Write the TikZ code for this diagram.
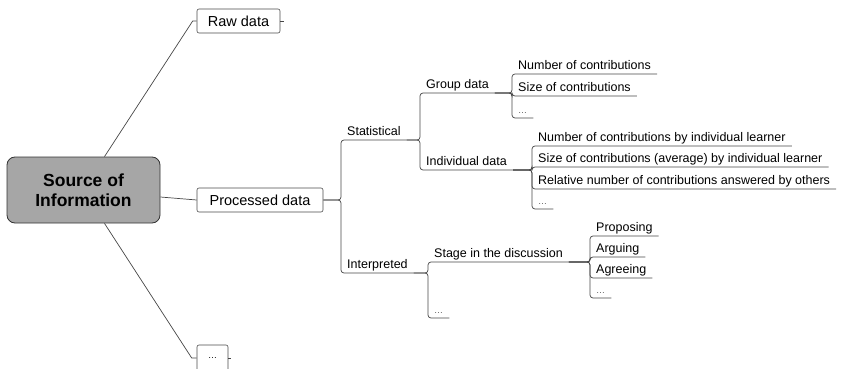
\documentclass[tikz,border=0pt]{standalone}
\usepackage{fontspec}
\setmainfont{Liberation Sans}
\usetikzlibrary{positioning}

\begin{document}
\begin{tikzpicture}[x=1pt,y=-1pt]

    % Define styles
    \tikzstyle{root} = [rectangle, rounded corners=8pt, draw=gray!40!black, fill=gray!70, line width=0.8pt, minimum width=153pt, minimum height=66pt, align=center, font=\fontsize{17.5}{20}\selectfont\bfseries]
    \tikzstyle{branchbox} = [rectangle, rounded corners=2pt, draw=gray!60!black, fill=white, line width=0.6pt, minimum height=24pt, inner xsep=10pt, font=\fontsize{14.5}{16}\selectfont]
    \tikzstyle{topic} = [anchor=south west, inner xsep=6pt, inner ysep=4pt, text depth=0pt, font=\fontsize{12.5}{14}\selectfont]
    \tikzstyle{dots} = [topic, text=gray!70!black, font=\fontsize{9}{10}\selectfont]
    \tikzstyle{link} = [draw=gray!55!black, line width=0.7pt]
    \tikzstyle{branch} = [link, rounded corners=3pt]

    \useasboundingbox (0,0) rectangle (845,369);

    % Central topic and main branches
    \node[root] (source) at (83.5,190) {Source of\\Information};
    \node[branchbox, minimum width=83pt] (raw) at (238.5,21) {Raw data};
    \node[branchbox, minimum width=126pt] (proc) at (260,200) {Processed data};
    \node[branchbox, minimum width=31pt, minimum height=26pt, font=\fontsize{9}{10}\selectfont] (more) at (212.5,358) {\ldots};

    % Processed data subtopics
    \node[topic] (stat) at (341,140) {Statistical};
    \node[topic] (interp) at (341,273) {Interpreted};

    \node[topic] (group) at (420,93) {Group data};
    \node[topic] (indiv) at (420,170) {Individual data};

    \node[topic] (grpnum) at (512,74) {Number of contributions};
    \node[topic] (grpsize) at (512,96) {Size of contributions};
    \node[dots] (grpdots) at (512,118) {\ldots};

    \node[topic] (indnum) at (532,146) {Number of contributions by individual learner};
    \node[topic] (indsize) at (532,167) {Size of contributions (average) by individual learner};
    \node[topic] (indrel) at (532,189) {Relative number of contributions answered by others};
    \node[dots] (inddots) at (532,209) {\ldots};

    \node[topic] (stage) at (428,262) {Stage in the discussion};
    \node[dots] (intdots) at (428,318) {\ldots};

    \node[topic] (propose) at (590,236) {Proposing};
    \node[topic] (argue) at (590,257) {Arguing};
    \node[topic] (agree) at (590,278) {Agreeing};
    \node[dots] (stagedots) at (590,298) {\ldots};

    % Lines from the central topic
    \draw[link] ([xshift=21pt]source.north) -- ([xshift=-4pt]raw.west) -- (raw.west);
    \draw[link] ([yshift=-7pt]source.east) -- (proc.west);
    \draw[link] ([xshift=21pt]source.south) -- ([xshift=-5pt]more.west) -- (more.west);
    \draw[link] (raw.east) -- ++(4,0);
    \draw[link] (more.east) -- ++(3,0);

    % Tree branches
    \foreach \child in {stat, interp}
        \draw[branch] (proc.east) -| (\child.south west) -- (\child.south east);
    \foreach \child in {group, indiv}
        \draw[branch] (stat.south east) -| (\child.south west) -- (\child.south east);
    \foreach \child in {grpnum, grpsize, grpdots}
        \draw[branch] (group.south east) -| (\child.south west) -- (\child.south east);
    \foreach \child in {indnum, indsize, indrel, inddots}
        \draw[branch] (indiv.south east) -| (\child.south west) -- (\child.south east);
    \foreach \child in {stage, intdots}
        \draw[branch] (interp.south east) -| (\child.south west) -- (\child.south east);
    \foreach \child in {propose, argue, agree, stagedots}
        \draw[branch] (stage.south east) -| (\child.south west) -- (\child.south east);

\end{tikzpicture}
\end{document}
